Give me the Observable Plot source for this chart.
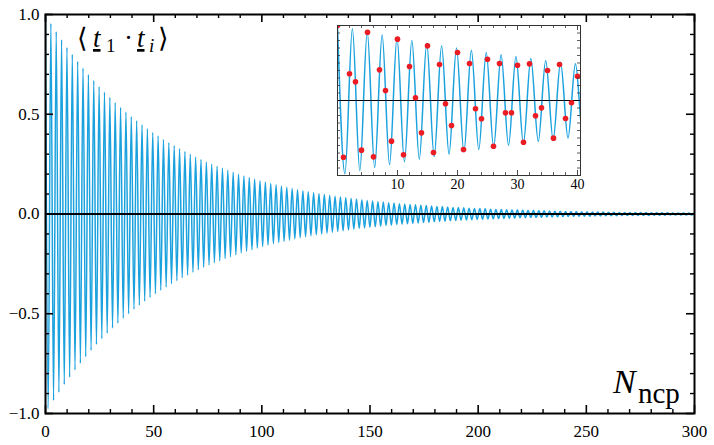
<!DOCTYPE html>
<html><head><meta charset="utf-8">
<script src="https://cdn.jsdelivr.net/npm/d3@7"></script>
<script src="https://cdn.jsdelivr.net/npm/@observablehq/plot@0.6"></script>
<style>
body{margin:0;background:#fff}
#wrap{position:relative;width:714px;height:445px}
#wrap svg{position:absolute;overflow:visible}
</style>
</head><body><div id="wrap"></div>
<script>
// Oscillation: spacing between successive extrema (half period, in N)
const halfPeriod = 1.2393;
// Signed extremum values of the blue curve, one per half period starting at N = 0
const extrema = [
 1, -0.978, 0.956, -0.935, 0.914, -0.894, 0.874, -0.855, 0.836, -0.818,
 0.800, -0.782, 0.765, -0.748, 0.731, -0.715, 0.699, -0.684, 0.669, -0.654,
 0.639, -0.625, 0.611, -0.598, 0.585, -0.572, 0.559, -0.547, 0.535, -0.523,
 0.511, -0.500, 0.489, -0.478, 0.467, -0.457, 0.447, -0.437, 0.427, -0.418,
 0.409, -0.400, 0.391, -0.382, 0.374, -0.366, 0.357, -0.350, 0.342, -0.334,
 0.327, -0.320, 0.313, -0.306, 0.299, -0.292, 0.286, -0.280, 0.273, -0.267,
 0.261, -0.256, 0.250, -0.244, 0.239, -0.234, 0.229, -0.223, 0.219, -0.214,
 0.209, -0.204, 0.200, -0.195, 0.191, -0.187, 0.183, -0.179, 0.175, -0.171,
 0.167, -0.163, 0.160, -0.156, 0.153, -0.149, 0.146, -0.143, 0.140, -0.137,
 0.134, -0.131, 0.128, -0.125, 0.122, -0.119, 0.117, -0.114, 0.112, -0.109,
 0.107, -0.104, 0.102, -0.100, 0.098, -0.096, 0.093, -0.091, 0.089, -0.087,
 0.085, -0.084, 0.082, -0.080, 0.078, -0.076, 0.075, -0.073, 0.071, -0.070,
 0.068, -0.067, 0.065, -0.064, 0.062, -0.061, 0.060, -0.058, 0.057, -0.056,
 0.055, -0.053, 0.052, -0.051, 0.050, -0.049, 0.048, -0.047, 0.046, -0.045,
 0.044, -0.043, 0.042, -0.041, 0.040, -0.039, 0.038, -0.037, 0.037, -0.036,
 0.035, -0.034, 0.033, -0.033, 0.032, -0.031, 0.031, -0.030, 0.029, -0.029,
 0.028, -0.027, 0.027, -0.026, 0.026, -0.025, 0.024, -0.024, 0.023, -0.023,
 0.022, -0.022, 0.021, -0.021, 0.020, -0.020, 0.020, -0.019, 0.019, -0.018,
 0.018, -0.017, 0.017, -0.017, 0.016, -0.016, 0.016, -0.015, 0.015, -0.015,
 0.014, -0.014, 0.014, -0.013, 0.013, -0.013, 0.012, -0.012, 0.012, -0.012,
 0.011, -0.011, 0.011, -0.011, 0.010, -0.010, 0.010, -0.010, 0.010, -0.009,
 0.009, -0.009, 0.009, -0.009, 0.008, -0.008, 0.008, -0.008, 0.008, -0.007,
 0.007, -0.007, 0.007, -0.007, 0.007, -0.007, 0.006, -0.006, 0.006, -0.006,
 0.006, -0.006, 0.006, -0.005, 0.005, -0.005, 0.005, -0.005, 0.005, -0.005,
 0.005, -0.005, 0.004, -0.004, 0.004
];
// Red points of the inset, i = 0 .. 40
const sampleI = [0,1,2,3,4,5,6,7,8,9,10,11,12,13,14,15,16,17,18,19,20,21,22,23,24,25,26,27,28,29,30,31,32,33,34,35,36,37,38,39,40];
const sampleV = [1, -0.756, 0.356, 0.249, -0.662, 0.911, -0.751, 0.409, 0.133, -0.542,
 0.818, -0.724, 0.453, 0.036, -0.431, 0.729, -0.693, 0.48, -0.044, -0.333,
 0.64, -0.653, 0.493, -0.111, -0.244, 0.551, -0.609, 0.493, -0.164, -0.164,
 0.471, -0.556, 0.489, -0.204, -0.098, 0.4, -0.502, 0.48, -0.24, -0.031, 0.324];

const xTicks = [0,50,100,150,200,250,300];
const xMinor = [10,20,30,40,60,70,80,90,110,120,130,140,160,170,180,190,210,220,230,240,260,270,280,290];
const yTicks = [-1,-0.5,0,0.5,1];
const yMinor = [-0.9,-0.8,-0.7,-0.6,-0.4,-0.3,-0.2,-0.1,0.1,0.2,0.3,0.4,0.6,0.7,0.8,0.9];
const insetXTicks = [10,20,30,40];
const insetXMinor = [2,4,6,8,12,14,16,18,22,24,26,28,32,34,36,38];
const insetYMinor = [-0.9,-0.8,-0.7,-0.6,-0.5,-0.4,-0.3,-0.2,-0.1,0.1,0.2,0.3,0.4,0.5,0.6,0.7,0.8,0.9];

const curveData = extrema.map((y, k) => ({x: k * halfPeriod, y}));
const points = sampleI.map((i, j) => ({x: i, y: sampleV[j]}));

const BLUE = "#1ba2de", RED = "#ec1c24";
const W = 714, H = 445, mL = 45, mR = 20, mT = 14, mB = 32;
const pH = H - mT - mB, pW = W - mL - mR;
const serif = "'Liberation Serif', 'DejaVu Serif', serif";

const main = Plot.plot({
  width: W, height: H, marginLeft: mL, marginRight: mR, marginTop: mT, marginBottom: mB,
  x: {domain: [0, 300], label: null}, y: {domain: [-1, 1], label: null},
  style: `font-family: ${serif}; font-size: 17px; color: #000; background: transparent;`,
  marks: [
    Plot.line(curveData, {x: "x", y: "y", stroke: BLUE, strokeWidth: 1.5, curve: "monotone-x", clip: true}),
    Plot.ruleY([0], {stroke: "#000", strokeWidth: 2}),
    Plot.tickX(xMinor, {x: d => d, insetTop: pH - 4, stroke: "#000", strokeWidth: 1.4}),
    Plot.tickX(xMinor, {x: d => d, insetBottom: pH - 4, stroke: "#000", strokeWidth: 1.4}),
    Plot.tickX(xTicks, {x: d => d, insetTop: pH - 8, stroke: "#000", strokeWidth: 1.6}),
    Plot.tickX(xTicks, {x: d => d, insetBottom: pH - 8, stroke: "#000", strokeWidth: 1.6}),
    Plot.tickY(yMinor, {y: d => d, insetRight: pW - 4, stroke: "#000", strokeWidth: 1.4}),
    Plot.tickY(yMinor, {y: d => d, insetLeft: pW - 4, stroke: "#000", strokeWidth: 1.4}),
    Plot.tickY(yTicks, {y: d => d, insetRight: pW - 8, stroke: "#000", strokeWidth: 1.6}),
    Plot.tickY(yTicks, {y: d => d, insetLeft: pW - 8, stroke: "#000", strokeWidth: 1.6}),
    Plot.frame({stroke: "#000", strokeWidth: 2}),
    Plot.axisX(xTicks, {tickSize: 0, tickPadding: 11, fontSize: 17, fontFamily: serif, label: null}),
    Plot.axisY(yTicks, {tickSize: 0, tickPadding: 6, fontSize: 17, fontFamily: serif, label: null, tickFormat: d3.format(".1f")})
  ]
});
main.style.left = "0px"; main.style.top = "0px";

// Math labels inside the main frame
const s = d3.select(main);
const t = s.append("text").attr("font-family", serif).attr("font-size", 27).attr("y", 47)
  .attr("fill", "#000").attr("text-anchor", "start");
t.append("tspan").attr("x", 77).text("⟨");
t.append("tspan").attr("x", 93).attr("font-style", "italic").attr("text-decoration", "underline").text("t");
t.append("tspan").attr("x", 106).attr("dy", 5).attr("font-size", 19).text("1");
t.append("tspan").attr("x", 124).attr("dy", -5).text("·");
t.append("tspan").attr("x", 137).attr("font-style", "italic").attr("text-decoration", "underline").text("t");
t.append("tspan").attr("x", 149).attr("dy", 5).attr("font-size", 19).attr("font-style", "italic").text("i");
t.append("tspan").attr("x", 158).attr("dy", -5).text("⟩");

const n = s.append("text").attr("font-family", serif).attr("fill", "#000").attr("text-anchor", "start");
n.append("tspan").attr("x", 613).attr("y", 393).attr("font-size", 34).attr("font-style", "italic").text("N");
n.append("tspan").attr("x", 638).attr("y", 403).attr("font-size", 29).text("ncp");

const inset = Plot.plot({
  width: 247, height: 172, marginLeft: 2, marginRight: 2, marginTop: 2, marginBottom: 20,
  x: {domain: [0, 40.5], label: null, axis: null}, y: {domain: [-1, 1], label: null, axis: null},
  style: `font-family: ${serif}; font-size: 14px; color: #000; background: transparent;`,
  marks: [
    Plot.line(curveData, {x: "x", y: "y", stroke: BLUE, strokeWidth: 1.5, curve: "monotone-x", clip: true}),
    Plot.ruleY([0], {stroke: "#000", strokeWidth: 1.1}),
    Plot.dot(points, {x: "x", y: "y", r: 2.8, fill: RED, stroke: "none", clip: true}),
    Plot.tickX(insetXMinor, {x: d => d, insetTop: 150 - 3, stroke: "#333", strokeWidth: 0.8}),
    Plot.tickX(insetXMinor, {x: d => d, insetBottom: 150 - 3, stroke: "#333", strokeWidth: 0.8}),
    Plot.tickX(insetXTicks, {x: d => d, insetTop: 150 - 5, stroke: "#333", strokeWidth: 0.9}),
    Plot.tickX(insetXTicks, {x: d => d, insetBottom: 150 - 5, stroke: "#333", strokeWidth: 0.9}),
    Plot.tickY(insetYMinor, {y: d => d, insetRight: 243 - 3, stroke: "#333", strokeWidth: 0.8}),
    Plot.tickY(insetYMinor, {y: d => d, insetLeft: 243 - 3, stroke: "#333", strokeWidth: 0.8}),
    Plot.frame({stroke: "#333", strokeWidth: 1}),
    Plot.axisX(insetXTicks, {tickSize: 0, tickPadding: 4, fontSize: 14, fontFamily: serif, label: null})
  ]
});
inset.style.left = "335px"; inset.style.top = "23px";

document.getElementById("wrap").append(main, inset);
</script>
</body></html>
